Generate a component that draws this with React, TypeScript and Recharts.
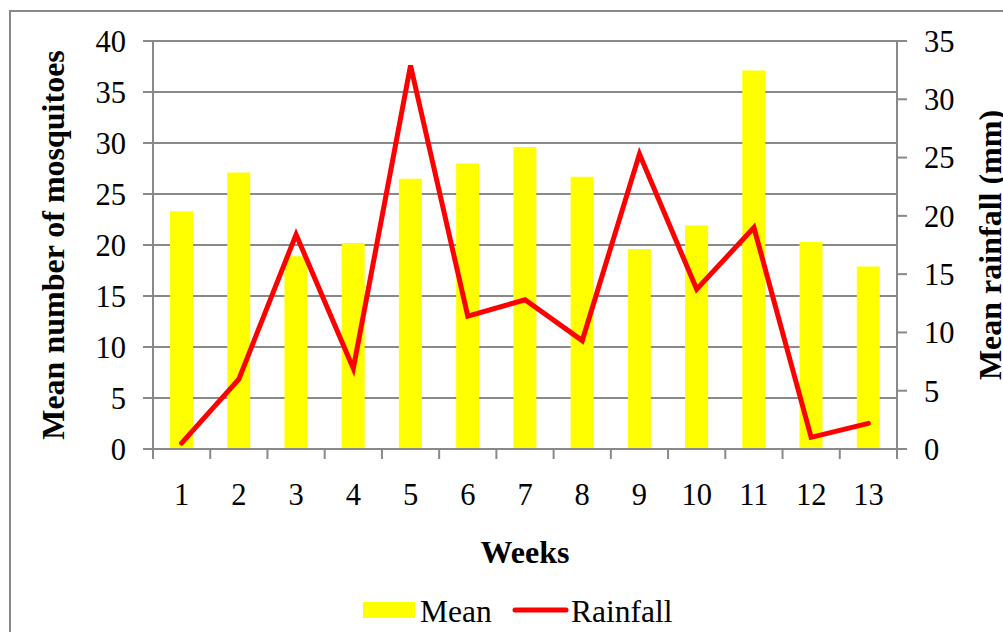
import React from 'react';
import { ComposedChart, Bar, Line, XAxis, YAxis, CartesianGrid } from 'recharts';

const weeks = ['1', '2', '3', '4', '5', '6', '7', '8', '9', '10', '11', '12', '13'];
const meanMosquitoes = [23.3, 27.1, 18.9, 20.2, 26.5, 28.0, 29.6, 26.7, 19.6, 21.9, 37.1, 20.3, 17.9];
const meanRainfall = [0.5, 6.0, 18.4, 6.9, 32.9, 11.4, 12.8, 9.3, 25.3, 13.7, 19.0, 1.0, 2.2];
const leftTicks = [0, 5, 10, 15, 20, 25, 30, 35, 40];
const rightTicks = [0, 5, 10, 15, 20, 25, 30, 35];
const seriesNames = { mean: 'Mean', rainfall: 'Rainfall' };
const leftTitle = 'Mean number of mosquitoes';
const rightTitle = 'Mean rainfall (mm)';
const xTitle = 'Weeks';

const data = weeks.map((w, i) => ({ week: w, mean: meanMosquitoes[i], rainfall: meanRainfall[i] }));

const FONT = '"Liberation Serif", "Times New Roman", serif';
const GRAY = '#898989';
const YELLOW = '#ffff00';
const RED = '#ff0000';
const FS = 30.5;
const TITLE_FS = 32;
const LEGEND_FS = 31.5;
const X_TICK_MARGIN = 34;
const X_TICK_LEN = 10;

const XTick = (props: any) => {
  const { x, y, payload, index, visibleTicksCount } = props;
  const half = payload && payload.offset != null ? payload.offset : 0;
  const axisY = y - X_TICK_MARGIN;
  return (
    <g>
      <line x1={x - half} x2={x - half} y1={axisY} y2={axisY + X_TICK_LEN} stroke={GRAY} strokeWidth={2} />
      {index === visibleTicksCount - 1 && (
        <line x1={x + half} x2={x + half} y1={axisY} y2={axisY + X_TICK_LEN} stroke={GRAY} strokeWidth={2} />
      )}
      <text x={x} y={y} dy="0.71em" textAnchor="middle" fontSize={FS} fontFamily={FONT} fill="#000">
        {payload.value}
      </text>
    </g>
  );
};

const LeftTitle = (props: any) => {
  const vb = props.viewBox || {};
  const cx = vb.x + 64;
  const cy = vb.y + vb.height / 2;
  return (
    <text transform={`translate(${cx}, ${cy}) rotate(-90)`} textAnchor="middle" fontSize={TITLE_FS} fontWeight="bold" fontFamily={FONT} fill="#000">
      {leftTitle}
    </text>
  );
};

const RightTitle = (props: any) => {
  const vb = props.viewBox || {};
  const cx = vb.x + 104;
  const cy = vb.y + vb.height / 2;
  return (
    <text transform={`translate(${cx}, ${cy}) rotate(-90)`} textAnchor="middle" fontSize={TITLE_FS} fontWeight="bold" fontFamily={FONT} fill="#000">
      {rightTitle}
    </text>
  );
};

const XTitle = (props: any) => {
  const vb = props.viewBox || {};
  const cx = vb.x + vb.width / 2;
  return (
    <text x={cx} y={vb.y + 114} textAnchor="middle" fontSize={TITLE_FS} fontWeight="bold" fontFamily={FONT} fill="#000">
      {xTitle}
    </text>
  );
};

export default function App() {
  return (
    <div style={{ position: 'absolute', left: 0, top: 0, width: 1003, height: 632, overflow: 'hidden', background: '#fff' }}>
      <div style={{ position: 'absolute', left: 9, top: 10, width: 1200, height: 1000, border: `2px solid ${GRAY}` }} />
      <div style={{ position: 'absolute', left: 0, top: 0 }}>
        <ComposedChart
          width={1003}
          height={632}
          data={data}
          margin={{ top: 41, right: 0, bottom: 0, left: 0 }}
          style={{ fontFamily: FONT }}
        >
          <CartesianGrid yAxisId="left" vertical={false} stroke={GRAY} strokeWidth={2} />
          <XAxis
            dataKey="week"
            type="category"
            height={183}
            axisLine={{ stroke: GRAY, strokeWidth: 2 }}
            tickLine={false}
            tickSize={0}
            tickMargin={X_TICK_MARGIN}
            tick={<XTick />}
            interval={0}
            label={<XTitle />}
          />
          <YAxis
            yAxisId="left"
            orientation="left"
            width={153}
            domain={[0, 40]}
            ticks={leftTicks}
            interval={0}
            axisLine={{ stroke: GRAY, strokeWidth: 2 }}
            tickLine={{ stroke: GRAY, strokeWidth: 2 }}
            tickSize={10}
            tickMargin={17}
            tick={{ fill: '#000', fontSize: FS, fontFamily: FONT }}
            label={<LeftTitle />}
          />
          <YAxis
            yAxisId="right"
            orientation="right"
            width={106}
            domain={[0, 35]}
            ticks={rightTicks}
            interval={0}
            axisLine={{ stroke: GRAY, strokeWidth: 2 }}
            tickLine={{ stroke: GRAY, strokeWidth: 2 }}
            tickSize={10}
            tickMargin={17}
            tick={{ fill: '#000', fontSize: FS, fontFamily: FONT }}
            label={<RightTitle />}
          />
          <Bar yAxisId="left" dataKey="mean" name={seriesNames.mean} fill={YELLOW} barSize={23} isAnimationActive={false} />
          <Line
            yAxisId="right"
            dataKey="rainfall"
            name={seriesNames.rainfall}
            type="linear"
            stroke={RED}
            strokeWidth={5}
            strokeLinecap="round"
            dot={false}
            activeDot={false}
            isAnimationActive={false}
          />
        </ComposedChart>
      </div>
      <svg width={1003} height={632} style={{ position: 'absolute', left: 0, top: 0, pointerEvents: 'none' }}>
        <rect x={363} y={602} width={52} height={16} fill={YELLOW} />
        <text x={420} y={622} fontSize={LEGEND_FS} fontFamily={FONT} fill="#000">{seriesNames.mean}</text>
        <line x1={515} x2={566} y1={610} y2={610} stroke={RED} strokeWidth={5} strokeLinecap="round" />
        <text x={571} y={622} fontSize={LEGEND_FS} fontFamily={FONT} fill="#000">{seriesNames.rainfall}</text>
      </svg>
    </div>
  );
}
